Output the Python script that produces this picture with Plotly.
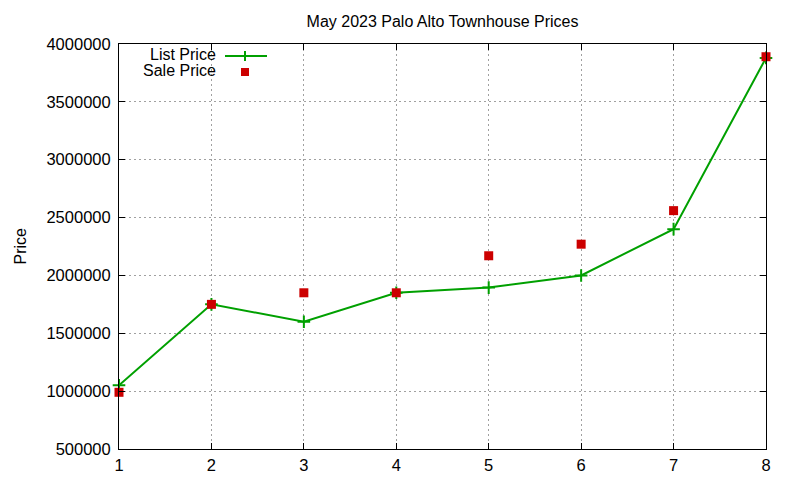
import plotly.graph_objects as go

units = [1, 2, 3, 4, 5, 6, 7, 8]
list_price = [1050000, 1750000, 1600000, 1850000, 1895000, 2000000, 2400000, 3880000]
sale_price = [990000, 1750000, 1850000, 1850000, 2170000, 2270000, 2560000, 3890000]

GREEN = "#00a000"
RED = "#cc0000"
FONT = "Liberation Sans, Arial, sans-serif"

OFF = 8  # page body margin
# plot area in page pixels
PX0, PX1, PY0, PY1 = 119, 766, 44, 449
W, H = 800 - OFF, 480 - OFF
L, T = PX0 - OFF, PY0 - OFF
R, B = 800 - PX1, 480 - PY1
PW, PH = PX1 - PX0, PY1 - PY0


def px(x):
    return (x - PX0) / PW


def py(y):
    return (PY1 - y) / PH


fig = go.Figure()
fig.add_trace(go.Scatter(
    x=units, y=list_price, mode="lines+markers", name="List Price",
    line=dict(color=GREEN, width=2),
    marker=dict(symbol="cross-thin", size=9, line=dict(color=GREEN, width=2)),
    cliponaxis=False, showlegend=False,
))
fig.add_trace(go.Scatter(
    x=units, y=sale_price, mode="markers", name="Sale Price",
    marker=dict(symbol="square", size=9, color=RED, line=dict(width=0)),
    cliponaxis=False, showlegend=False,
))

axis_common = dict(
    showline=True, linecolor="black", linewidth=1, mirror="ticks",
    ticks="inside", ticklen=6, tickcolor="black", tickwidth=1,
    showgrid=True, gridcolor="#a0a0a0", griddash="2px,3px", gridwidth=1,
    zeroline=False, tickfont=dict(family=FONT, size=16.5, color="black"),
)

fig.update_xaxes(range=[1, 8], dtick=1, tick0=1, ticklabelstandoff=1, **axis_common)
fig.update_yaxes(range=[500000, 4000000], dtick=500000, tick0=500000,
                 tickformat="d", ticklabelstandoff=4, **axis_common)

shapes = [
    dict(type="line", xref="paper", yref="paper", x0=px(225), x1=px(267), y0=py(56), y1=py(56),
         line=dict(color=GREEN, width=2)),
    dict(type="line", xref="paper", yref="paper", x0=px(245), x1=px(245), y0=py(51), y1=py(61),
         line=dict(color=GREEN, width=2)),
    dict(type="rect", xref="paper", yref="paper", x0=px(241), x1=px(249), y0=py(68), y1=py(76),
         fillcolor=RED, line=dict(width=0)),
]

annotations = [
    dict(text="List Price", xref="paper", yref="paper", x=px(218), y=py(55),
         xanchor="right", yanchor="middle", showarrow=False,
         font=dict(family=FONT, size=16, color="black")),
    dict(text="Sale Price", xref="paper", yref="paper", x=px(218), y=py(71),
         xanchor="right", yanchor="middle", showarrow=False,
         font=dict(family=FONT, size=16, color="black")),
    dict(text="Price", xref="paper", yref="paper", x=px(9), y=py(246),
         xanchor="left", yanchor="middle", textangle=-90, showarrow=False,
         font=dict(family=FONT, size=16, color="black")),
]

fig.update_layout(
    width=W, height=H,
    margin=dict(l=L, r=R, t=T, b=B, autoexpand=False),
    paper_bgcolor="white", plot_bgcolor="white",
    title=dict(text="May 2023 Palo Alto Townhouse Prices", x=0.5, xref="paper",
               y=(H - (21 - OFF)) / H, yref="container", xanchor="center", yanchor="middle",
               font=dict(family=FONT, size=16, color="black")),
    shapes=shapes, annotations=annotations,
)

fig.write_html("out.html")
